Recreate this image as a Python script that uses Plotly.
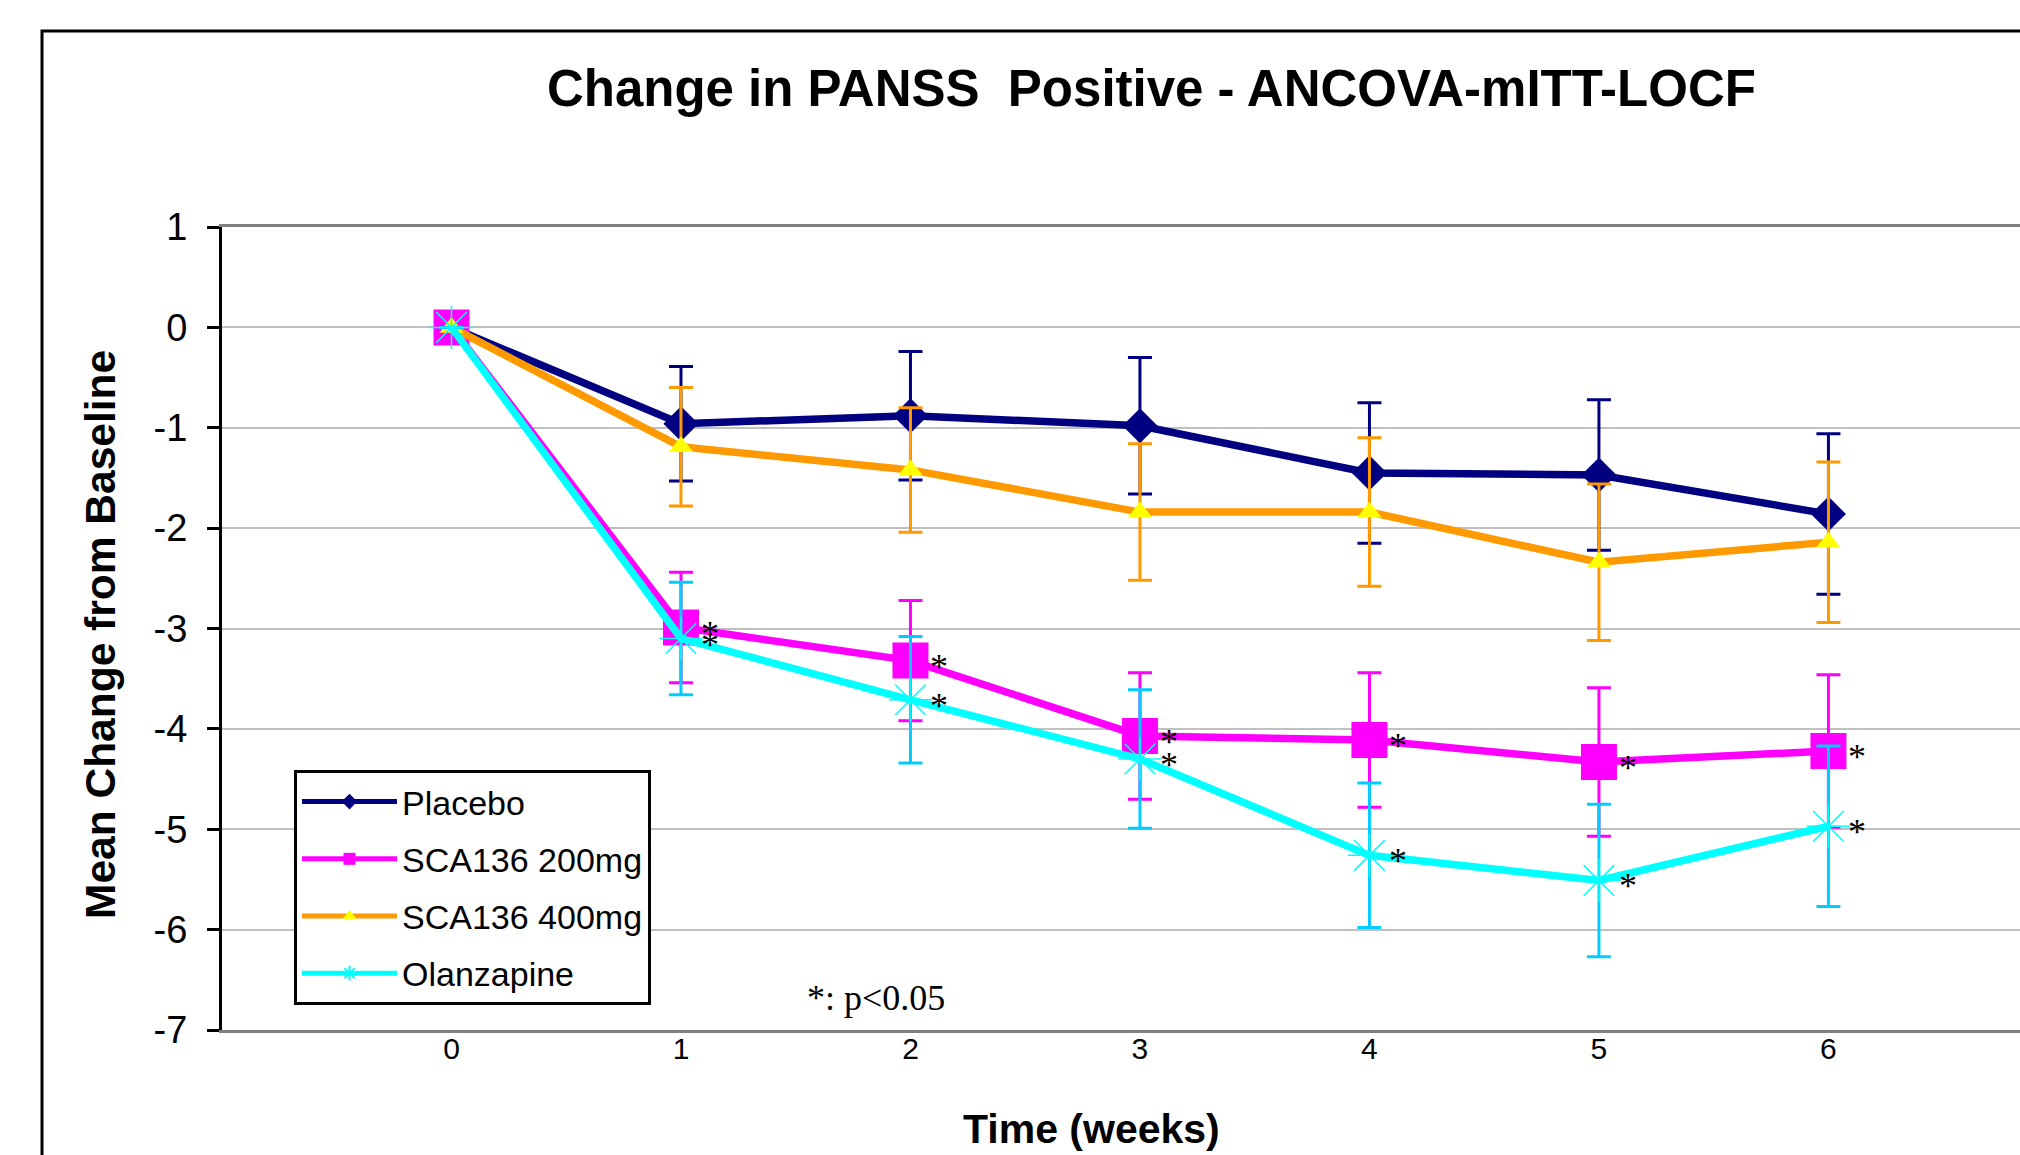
import plotly.graph_objects as go

weeks = [0, 1, 2, 3, 4, 5, 6]
week_labels = ["0", "1", "2", "3", "4", "5", "6"]

placebo = [0, -0.96, -0.88, -0.98, -1.45, -1.47, -1.86]
placebo_err = [0, 0.57, 0.64, 0.68, 0.70, 0.75, 0.80]

sca200 = [0, -2.99, -3.32, -4.07, -4.11, -4.33, -4.22]
sca200_err = [0, 0.55, 0.60, 0.63, 0.67, 0.74, 0.76]

sca400 = [0, -1.19, -1.42, -1.84, -1.84, -2.34, -2.14]
sca400_err = [0, 0.59, 0.62, 0.68, 0.74, 0.78, 0.80]

olanzapine = [0, -3.10, -3.71, -4.30, -5.26, -5.51, -4.97]
olanzapine_err = [0, 0.56, 0.63, 0.69, 0.72, 0.76, 0.80]

sig_marks = ["", "*", "*", "*", "*", "*", "*"]

y_ticks = [1, 0, -1, -2, -3, -4, -5, -6, -7]
y_ticktext = ["1", "0", "-1", "-2", "-3", "-4", "-5", "-6", "-7"]

SANS = "Liberation Sans, Arial, sans-serif"
SERIF = "Liberation Serif, Times New Roman, serif"

fig = go.Figure()

series = [
    ("Placebo", placebo, placebo_err, "#000080", "#000080", "diamond", 27, "#000080"),
    ("SCA136 200mg", sca200, sca200_err, "#FF00FF", "#FF00FF", "square", 36, "#FF00FF"),
    ("SCA136 400mg", sca400, sca400_err, "#FF9900", "#FFFF00", "triangle-up", 21, "#FF9900"),
    ("Olanzapine", olanzapine, olanzapine_err, "#00FFFF", "#00FFFF", "asterisk-open", 36, "#00CCFF"),
]

for i, (name, vals, err, lc, mc, sym, ms, ec) in enumerate(series):
    fig.add_trace(go.Scatter(
        x=weeks, y=vals, name=name, mode="lines+markers",
        line=dict(color=lc, width=7.5),
        marker=dict(color=mc, symbol=sym, size=ms,
                    line=dict(color=mc, width=1.5 if sym == "asterisk-open" else 0)),
        error_y=dict(type="data", array=err, symmetric=True, color=ec,
                     thickness=3, width=12),
        legendgroup="g%d" % i,
    ))

annotations = []
for vals in (sca200, olanzapine):
    for xv, yv, mark in zip(weeks, vals, sig_marks):
        if mark:
            annotations.append(dict(
                x=xv, y=yv, xref="x", yref="y", text=mark, showarrow=False,
                xanchor="center", yanchor="middle", xshift=29, yshift=-6,
                font=dict(family=SERIF, size=36, color="black")))

W, H = 2020, 1155
L, T, B = 222, 227, 125
pw = W - L
ph = H - T - B

def px(xf):
    return (xf - L) / pw

def py(yf):
    return (H - B - yf) / ph

annotations += [
    dict(text="Mean Change from Baseline", xref="paper", yref="paper",
         x=px(100), y=py(635), textangle=-90, showarrow=False,
         xanchor="center", yanchor="middle",
         font=dict(family=SANS, size=42.5, color="black", weight="bold")),
    dict(text="Time (weeks)", xref="paper", yref="paper",
         x=px(1091), y=py(1129), showarrow=False,
         xanchor="center", yanchor="middle",
         font=dict(family=SANS, size=41, color="black", weight="bold")),
    dict(text="*: p<0.05", xref="paper", yref="paper",
         x=px(876), y=py(998), showarrow=False,
         xanchor="center", yanchor="middle",
         font=dict(family=SERIF, size=36, color="black")),
]

fig.update_layout(
    width=W, height=H, autosize=False,
    margin=dict(l=L, r=0, t=T, b=B),
    paper_bgcolor="white", plot_bgcolor="white",
    title=dict(text="Change in PANSS  Positive - ANCOVA-mITT-LOCF",
               font=dict(family=SANS, size=51, color="black", weight="bold"),
               x=0.57, xanchor="center", y=1 - 88 / H, yanchor="middle"),
    xaxis=dict(range=[-1, (W - 448) / 230.0], tickvals=weeks, ticktext=week_labels,
               showgrid=False, zeroline=False, showline=True, linecolor="#808080",
               linewidth=3, mirror=True, ticks="", ticklabelstandoff=-10,
               tickfont=dict(family=SANS, size=30, color="black")),
    yaxis=dict(range=[-7, 1], tickvals=y_ticks, ticktext=y_ticktext,
               showgrid=True, gridcolor="#C0C0C0", gridwidth=2, zeroline=False,
               showline=True, linecolor="black", linewidth=3,
               ticks="outside", ticklen=12, tickwidth=3, tickcolor="black",
               ticklabelstandoff=12,
               tickfont=dict(family=SANS, size=38, color="black")),
    legend=dict(x=px(294), y=py(770), xanchor="left", yanchor="top",
                bgcolor="white", bordercolor="black", borderwidth=3,
                font=dict(family=SANS, size=34, color="black"),
                itemwidth=95, tracegroupgap=10, itemsizing="constant",
                traceorder="grouped"),
    showlegend=True,
    annotations=annotations,
    shapes=[
        dict(type="rect", xref="paper", yref="paper",
             x0=px(42), y0=py(1300), x1=px(2200), y1=py(31),
             line=dict(color="black", width=3), layer="below"),
    ],
)

fig.write_html("out.html")
